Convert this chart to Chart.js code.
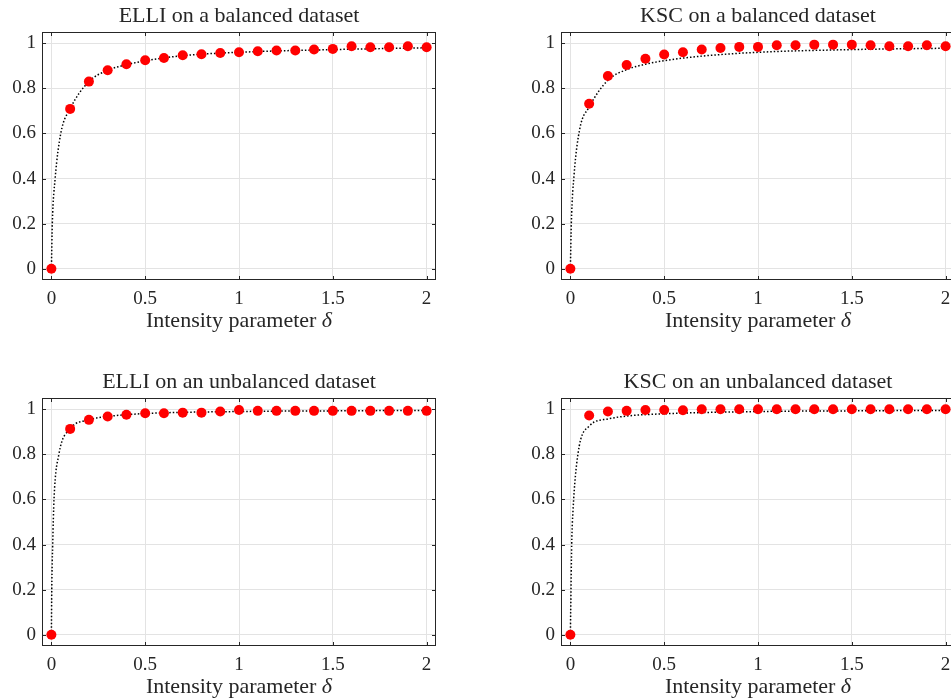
<!DOCTYPE html>
<html lang="en">
<head>
  <meta charset="UTF-8" />
  <title>Intensity parameter</title>
  <style>
    body {
      margin: 0;
      background: #ffffff;
      width: 951px;
      height: 700px;
      overflow: hidden;
      position: relative;
    }

    .panel {
      position: absolute;
      width: 475px;
      height: 340px;
    }
  </style>
</head>
<body>
  <div class="panel" style="left:0;top:0"><canvas id="c0" width="475" height="340"></canvas></div>
  <div class="panel" style="left:519px;top:0"><canvas id="c1" width="475" height="340"></canvas></div>
  <div class="panel" style="left:0;top:366px"><canvas id="c2" width="475" height="340"></canvas></div>
  <div class="panel" style="left:519px;top:366px"><canvas id="c3" width="475" height="340"></canvas></div>

  <script src="https://cdn.jsdelivr.net/npm/chart.js"></script>
  <script>
    // values
    const delta = [0, 0.1, 0.2, 0.3, 0.4, 0.5, 0.6, 0.7, 0.8, 0.9, 1.0, 1.1, 1.2, 1.3, 1.4, 1.5, 1.6, 1.7, 1.8, 1.9, 2.0];

    const elliBalanced = [0, 0.709, 0.830, 0.880, 0.907, 0.925, 0.935, 0.947, 0.951, 0.957, 0.960, 0.965, 0.968, 0.968, 0.972, 0.975, 0.987, 0.982, 0.982, 0.987, 0.982];
    const kscBalanced = [0, 0.732, 0.855, 0.904, 0.931, 0.950, 0.960, 0.972, 0.979, 0.984, 0.984, 0.991, 0.991, 0.994, 0.994, 0.994, 0.991, 0.987, 0.987, 0.991, 0.987];
    const elliUnbalanced = [0, 0.913, 0.953, 0.968, 0.976, 0.982, 0.982, 0.985, 0.985, 0.990, 0.997, 0.993, 0.993, 0.993, 0.993, 0.993, 0.993, 0.993, 0.993, 0.993, 0.993];
    const kscUnbalanced = [0, 0.972, 0.990, 0.993, 0.997, 0.997, 0.996, 1, 1, 1, 1, 1, 1, 1, 1, 1, 1, 1, 1, 1, 1];

    // dotted reference curves
    const balCurveX = [0, 0.005, 0.02, 0.05, 0.1, 0.2, 0.3, 0.4, 0.5, 0.7, 1, 1.5, 2];
    const elliBalCurve = [0, 0.2, 0.4, 0.6, 0.71, 0.83, 0.88, 0.905, 0.922, 0.945, 0.96, 0.972, 0.98];
    const kscBalCurve = [0, 0.2, 0.42, 0.62, 0.717, 0.836, 0.883, 0.907, 0.923, 0.943, 0.96, 0.972, 0.978];

    const unbCurveX = [0, 0.002, 0.007, 0.014, 0.04, 0.1, 0.2, 0.3, 0.5, 1, 1.5, 2];
    const elliUnbCurve = [0, 0.2, 0.4, 0.6, 0.8, 0.913, 0.953, 0.968, 0.981, 0.99, 0.993, 0.995];
    const kscUnbCurve = [0, 0.12, 0.4, 0.55, 0.8, 0.925, 0.957, 0.97, 0.98, 0.99, 0.993, 0.995];

    const titles = [
      'ELLI on a balanced dataset',
      'KSC on a balanced dataset',
      'ELLI on an unbalanced dataset',
      'KSC on an unbalanced dataset'
    ];
    const xTickLabels = ['0', '0.5', '1', '1.5', '2'];
    const yTickLabels = ['0', '0.2', '0.4', '0.6', '0.8', '1'];
    const xLabel = 'Intensity parameter ';
    const xSymbol = 'δ';

    const panels = [
      { dots: elliBalanced, cx: balCurveX, cy: elliBalCurve },
      { dots: kscBalanced, cx: balCurveX, cy: kscBalCurve },
      { dots: elliUnbalanced, cx: unbCurveX, cy: elliUnbCurve },
      { dots: kscUnbalanced, cx: unbCurveX, cy: kscUnbCurve }
    ];

    const ink = '#262626';
    const serif = "'Liberation Serif', 'DejaVu Serif', serif";

    // box around the plot, inward ticks on all sides, title and x label
    const frame = {
      id: 'frame',
      beforeDatasetsDraw(chart) {
        const { ctx, chartArea: a, scales } = chart;
        ctx.save();
        ctx.strokeStyle = ink;
        ctx.lineWidth = 1;
        ctx.beginPath();
        scales.x.ticks.forEach(t => {
          const px = Math.round(scales.x.getPixelForValue(t.value)) + 0.5;
          ctx.moveTo(px, a.top); ctx.lineTo(px, a.top + 4);
          ctx.moveTo(px, a.bottom); ctx.lineTo(px, a.bottom - 4);
        });
        scales.y.ticks.forEach(t => {
          const py = Math.round(scales.y.getPixelForValue(t.value)) + 0.5;
          ctx.moveTo(a.left, py); ctx.lineTo(a.left + 4, py);
          ctx.moveTo(a.right, py); ctx.lineTo(a.right - 4, py);
        });
        ctx.stroke();
        ctx.strokeRect(a.left + 0.5, a.top + 0.5, a.width - 1, a.height - 1);
        ctx.restore();
      },
      afterDraw(chart, args, opts) {
        const { ctx, chartArea: a } = chart;
        const mid = (a.left + a.right) / 2;
        ctx.save();
        ctx.fillStyle = ink;
        ctx.textBaseline = 'alphabetic';

        ctx.font = '22px ' + serif;
        ctx.textAlign = 'center';
        ctx.fillText(opts.text, mid, a.top - 10);

        // x label with an italic delta
        ctx.font = '22px ' + serif;
        const w1 = ctx.measureText(xLabel).width;
        ctx.font = 'italic 22px ' + serif;
        const w2 = ctx.measureText(xSymbol).width;
        const x0 = mid - (w1 + w2) / 2;
        ctx.textAlign = 'left';
        ctx.font = '22px ' + serif;
        ctx.fillText(xLabel, x0, a.bottom + 47);
        ctx.font = 'italic 22px ' + serif;
        ctx.fillText(xSymbol, x0 + w1, a.bottom + 47);
        ctx.restore();
      }
    };

    panels.forEach((p, i) => {
      const ctx = document.getElementById('c' + i).getContext('2d');
      new Chart(ctx, {
        type: 'scatter',
        data: {
          datasets: [
            {
              data: delta.map((d, k) => ({ x: d, y: p.dots[k] })),
              backgroundColor: '#ff0000',
              borderWidth: 0,
              pointRadius: 5,
              pointHoverRadius: 5,
              order: 0
            },
            {
              data: p.cx.map((d, k) => ({ x: d, y: p.cy[k] })),
              showLine: true,
              borderColor: '#000000',
              borderWidth: 1.5,
              borderDash: [1.5, 2],
              cubicInterpolationMode: 'monotone',
              pointRadius: 0,
              order: 1
            }
          ]
        },
        options: {
          responsive: false,
          animation: false,
          events: [],
          layout: { padding: { top: 32, right: 39, left: 0, bottom: 0 } },
          plugins: {
            legend: { display: false },
            tooltip: { enabled: false },
            frame: { text: titles[i] }
          },
          scales: {
            x: {
              type: 'linear',
              min: -0.05,
              max: 2.05,
              afterBuildTicks: s => { s.ticks = xTickLabels.map(v => ({ value: Number(v) })); },
              afterFit: s => { s.height = 60; },
              grid: { color: '#e3e3e3', drawTicks: false },
              border: { display: false },
              ticks: {
                color: ink,
                padding: 8,
                maxRotation: 0,
                font: { family: serif, size: 19 },
                callback: (v, k) => xTickLabels[k]
              }
            },
            y: {
              type: 'linear',
              min: -0.05,
              max: 1.05,
              afterBuildTicks: s => { s.ticks = yTickLabels.map(v => ({ value: Number(v) })); },
              afterFit: s => { s.width = 42; },
              grid: { color: '#e3e3e3', drawTicks: false },
              border: { display: false },
              ticks: {
                color: ink,
                padding: 6,
                font: { family: serif, size: 19 },
                callback: (v, k) => yTickLabels[k]
              }
            }
          }
        },
        plugins: [frame]
      });
    });
  </script>
</body>
</html>
